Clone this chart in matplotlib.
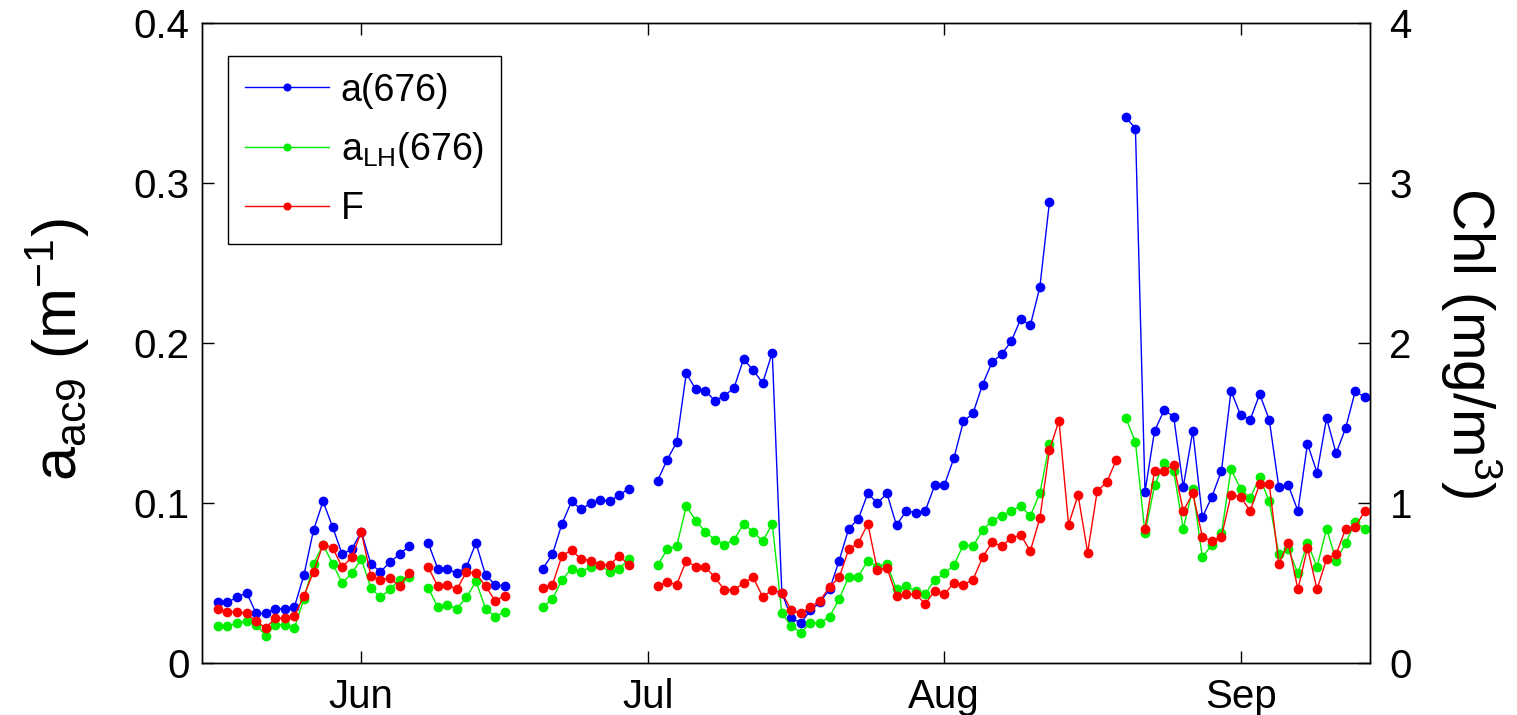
import matplotlib
matplotlib.use('Agg')
import matplotlib.pyplot as plt
import matplotlib.dates as mdates
import numpy as np
import pandas as pd

nan = np.nan

# daily samples, 17 May - 14 Sep (nan = no data, line is broken there)
days = pd.date_range('2006-05-17', '2006-09-14', freq='D')

# a(676), m^-1
a676 = [
    # May 17-31
    0.038, 0.038, 0.041, 0.044, 0.031, 0.031, 0.034, 0.034, 0.035, 0.055,
    0.083, 0.101, 0.085, 0.068, 0.071,
    # Jun
    0.082, 0.062, 0.057, 0.063, 0.068, 0.073, nan, 0.075, 0.059, 0.059,
    0.056, 0.060, 0.075, 0.055, 0.049, 0.048, nan, nan, nan, 0.059,
    0.068, 0.087, 0.101, 0.096, 0.100, 0.102, 0.101, 0.105, 0.109, nan,
    # Jul
    nan, 0.114, 0.127, 0.138, 0.181, 0.171, 0.170, 0.164, 0.167, 0.172,
    0.190, 0.183, 0.175, 0.194, 0.044, 0.028, 0.025, 0.033, 0.038, 0.046,
    0.064, 0.084, 0.090, 0.106, 0.100, 0.106, 0.086, 0.095, 0.094, 0.095,
    0.111,
    # Aug
    0.111, 0.128, 0.151, 0.156, 0.174, 0.188, 0.193, 0.201, 0.215, 0.211,
    0.235, 0.288, nan, nan, nan, nan, nan, nan, nan, 0.341,
    0.334, 0.107, 0.145, 0.158, 0.154, 0.110, 0.145, 0.091, 0.104, 0.120,
    0.170,
    # Sep 1-14
    0.155, 0.152, 0.168, 0.152, 0.110, 0.111, 0.095, 0.137, 0.119, 0.153,
    0.131, 0.147, 0.170, 0.166,
]

# a_LH(676), m^-1
alh676 = [
    0.023, 0.023, 0.025, 0.026, 0.024, 0.017, 0.024, 0.024, 0.022, 0.040,
    0.062, 0.074, 0.062, 0.050, 0.056,
    0.065, 0.047, 0.041, 0.046, 0.052, 0.054, nan, 0.047, 0.035, 0.036,
    0.034, 0.041, 0.051, 0.034, 0.029, 0.032, nan, nan, nan, 0.035,
    0.040, 0.052, 0.059, 0.057, 0.060, 0.061, 0.057, 0.059, 0.065, nan,
    nan, 0.061, 0.071, 0.073, 0.098, 0.089, 0.082, 0.077, 0.074, 0.077,
    0.087, 0.082, 0.076, 0.087, 0.031, 0.023, 0.019, 0.025, 0.025, 0.029,
    0.040, 0.054, 0.054, 0.064, 0.060, 0.062, 0.046, 0.048, 0.045, 0.043,
    0.052,
    0.056, 0.061, 0.074, 0.073, 0.083, 0.089, 0.092, 0.095, 0.098, 0.092,
    0.106, 0.137, nan, nan, nan, nan, nan, nan, nan, 0.153,
    0.138, 0.081, 0.111, 0.125, 0.120, 0.084, 0.109, 0.066, 0.074, 0.081,
    0.121,
    0.109, 0.103, 0.116, 0.101, 0.068, 0.071, 0.056, 0.075, 0.060, 0.084,
    0.064, 0.075, 0.088, 0.084,
]

# fluorescence F, Chl mg/m^3 (right axis)
fluo = [
    0.335, 0.32, 0.32, 0.31, 0.26, 0.22, 0.28, 0.28, 0.295, 0.42,
    0.57, 0.74, 0.72, 0.60, 0.66,
    0.82, 0.545, 0.52, 0.53, 0.48, 0.56, nan, 0.60, 0.48, 0.49,
    0.46, 0.57, 0.56, 0.48, 0.39, 0.42, nan, nan, nan, 0.47,
    0.49, 0.67, 0.705, 0.65, 0.64, 0.615, 0.615, 0.67, 0.61, nan,
    nan, 0.48, 0.505, 0.49, 0.64, 0.60, 0.60, 0.535, 0.456, 0.456,
    0.50, 0.535, 0.414, 0.456, 0.44, 0.33, 0.31, 0.35, 0.39, 0.476,
    0.535, 0.71, 0.75, 0.87, 0.58, 0.595, 0.42, 0.43, 0.43, 0.37,
    0.45,
    0.43, 0.50, 0.49, 0.52, 0.66, 0.755, 0.73, 0.78, 0.80, 0.70,
    0.905, 1.33, 1.515, 0.865, 1.05, 0.69, 1.075, 1.13, 1.27, nan,
    nan, 0.84, 1.20, 1.20, 1.24, 0.95, 1.06, 0.79, 0.76, 0.79,
    1.05,
    1.04, 0.95, 1.12, 1.12, 0.62, 0.75, 0.46, 0.72, 0.46, 0.65,
    0.68, 0.84, 0.85, 0.95,
]

plt.rcParams.update({
    'font.family': ['Liberation Sans', 'DejaVu Sans'],
    'mathtext.fontset': 'custom',
    'mathtext.rm': 'Liberation Sans',
    'mathtext.it': 'Liberation Sans:italic',
    'mathtext.bf': 'Liberation Sans:bold',
    'axes.linewidth': 1.0,
})

fig = plt.figure(figsize=(15.17, 7.15), dpi=100)
ax = fig.add_axes([202 / 1517, 1 - 663 / 715, 1168 / 1517, 640 / 715])
ax2 = ax.twinx()

style = dict(marker='o', markersize=6, linewidth=1.0)
l1, = ax.plot(days, a676, color='#0000ff', label='a(676)', **style)
l2, = ax.plot(days, alh676, color='#00ee00', label='a$_{\\mathrm{LH}}$(676)', **style)
l3, = ax2.plot(days, fluo, color='#ff0000', label='F', **style)

ax.set_xlim(pd.Timestamp('2006-05-15 08:00'), pd.Timestamp('2006-09-14 13:00'))
ax.set_ylim(0, 0.4)
ax.set_yticks([0, 0.1, 0.2, 0.3, 0.4])
ax.set_yticklabels(['0', '0.1', '0.2', '0.3', '0.4'])
ax2.set_ylim(0, 4)
ax2.set_yticks([0, 1, 2, 3, 4])

ax.xaxis.set_major_locator(mdates.MonthLocator(bymonthday=1))
ax.xaxis.set_major_formatter(mdates.DateFormatter('%b'))

ax.tick_params(axis='both', direction='in', length=8.5, width=1.0,
               labelsize=29, top=True, right=False)
ax.tick_params(axis='x', pad=11)
ax.tick_params(axis='y', pad=9)
ax2.tick_params(axis='y', direction='in', length=8.5, width=1.0,
                labelsize=29, pad=14, left=False)

ax.set_ylabel('a$_{\\mathrm{ac9}}$ (m$^{\u22121}$)', fontsize=44)
ax.yaxis.set_label_coords(-0.094, 0.49)
ax2.set_ylabel('Chl (mg/m$^{3}$)', fontsize=42, rotation=-90,
               rotation_mode='anchor', va='bottom', ha='center')
ax2.yaxis.set_label_coords(1.058, 0.5)

leg = ax2.legend([l1, l2, l3], [l1.get_label(), l2.get_label(), l3.get_label()],
                 loc='upper left', bbox_to_anchor=(0.0223, 0.949),
                 borderaxespad=0, fontsize=27, fancybox=False, framealpha=1,
                 edgecolor='black', handlelength=2.25, handletextpad=0.3,
                 labelspacing=0.57, borderpad=0.45, markerscale=0.8)
leg.get_frame().set_linewidth(1.0)

fig.savefig('out.png', dpi=100)
